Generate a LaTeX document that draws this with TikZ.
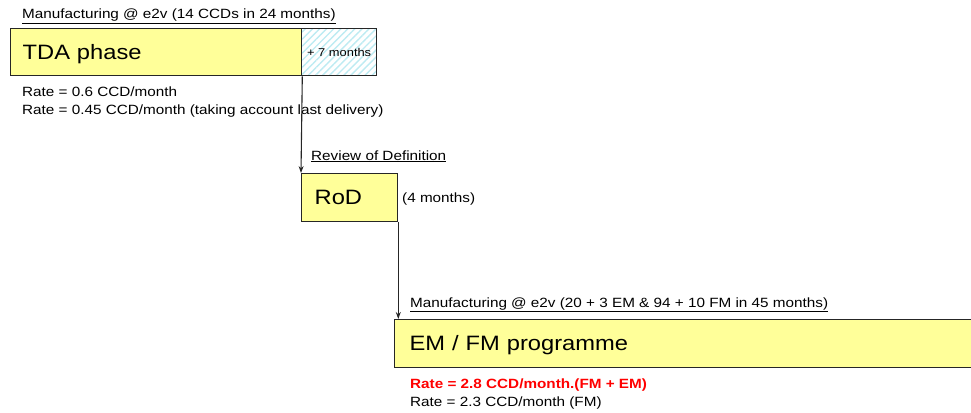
\documentclass[tikz,border=0pt]{standalone}
\usepackage{fontspec}
\setmainfont{Liberation Sans}[FakeStretch=1.14]
\usetikzlibrary{arrows.meta,patterns.meta}
\definecolor{boxyellow}{HTML}{FFFF99}
\definecolor{hatchblue}{HTML}{BDEBF2}
\definecolor{ratered}{HTML}{FF0000}
\tikzset{
  x=1pt,y=1pt,
  phasebox/.style={draw=black!85, line width=1.3pt, fill=boxyellow, anchor=north west, inner sep=0pt},
  smalltxt/.style={font=\fontsize{13.4}{15}\selectfont, inner sep=0pt, anchor=base west},
  bigtxt/.style={font=\fontsize{20.8}{24}\selectfont, text height=14pt, text depth=0pt},
  conn/.style={draw=black!85, line width=1.1pt, -{Stealth[length=7pt,width=5pt]}},
}
\begin{document}
\begin{tikzpicture}
\useasboundingbox (0,0) rectangle (971,-412);
\clip (0,0) rectangle (971,-412);
% TDA phase
\node[smalltxt] (t1) at (22,-19) {\underline{Manufacturing @ e2v (14 CCDs in 24 months)}};
\node[phasebox, minimum width=291pt, minimum height=47pt, text width=291pt, align=left, bigtxt] (tda) at (10,-28) {\hspace*{12pt}TDA phase};
\node[draw=black!85, line width=1.3pt, fill=white, pattern={Lines[angle=45,distance=5pt,line width=1.4pt]}, pattern color=hatchblue, anchor=north west, minimum width=75pt, minimum height=47pt, inner sep=0pt] (hatch) at (301,-28) {};
\node[draw=black!85, line width=1.3pt, anchor=north west, minimum width=75pt, minimum height=47pt, inner sep=0pt, font=\fontsize{11.3}{13}\selectfont] (plus7) at (301,-28) {+ 7 months};
\node[smalltxt] (r1) at (22,-96) {Rate = 0.6 CCD/month};
\node[smalltxt] (r2) at (22,-114) {Rate = 0.45 CCD/month (taking account last delivery)};
% RoD
\node[smalltxt] (t2) at (311,-160) {\underline{Review of Definition}};
\node[phasebox, minimum width=96pt, minimum height=48pt, text width=96pt, align=left, bigtxt] (rod) at (301,-173) {\hspace*{13pt}RoD};
\node[smalltxt] (m4) at (402,-202) {(4 months)};
% EM/FM
\node[smalltxt] (t3) at (410,-307) {\underline{Manufacturing @ e2v (20 + 3 EM \& 94 + 10 FM in 45 months)}};
\node[phasebox, minimum width=600pt, minimum height=48pt, text width=600pt, align=left, bigtxt] (em) at (394,-319) {\hspace*{15pt}EM / FM programme};
\node[smalltxt, text=ratered, font=\fontsize{13.4}{15}\selectfont\bfseries] (r3) at (410,-388) {Rate = 2.8 CCD/month.(FM + EM)};
\node[smalltxt] (r4) at (410,-406) {Rate = 2.3 CCD/month (FM)};
% connectors
\draw[conn] (tda.south east) -- (rod.north west);
\draw[conn] (rod.south east) -- (rod.south east |- em.north);
\end{tikzpicture}
\end{document}
